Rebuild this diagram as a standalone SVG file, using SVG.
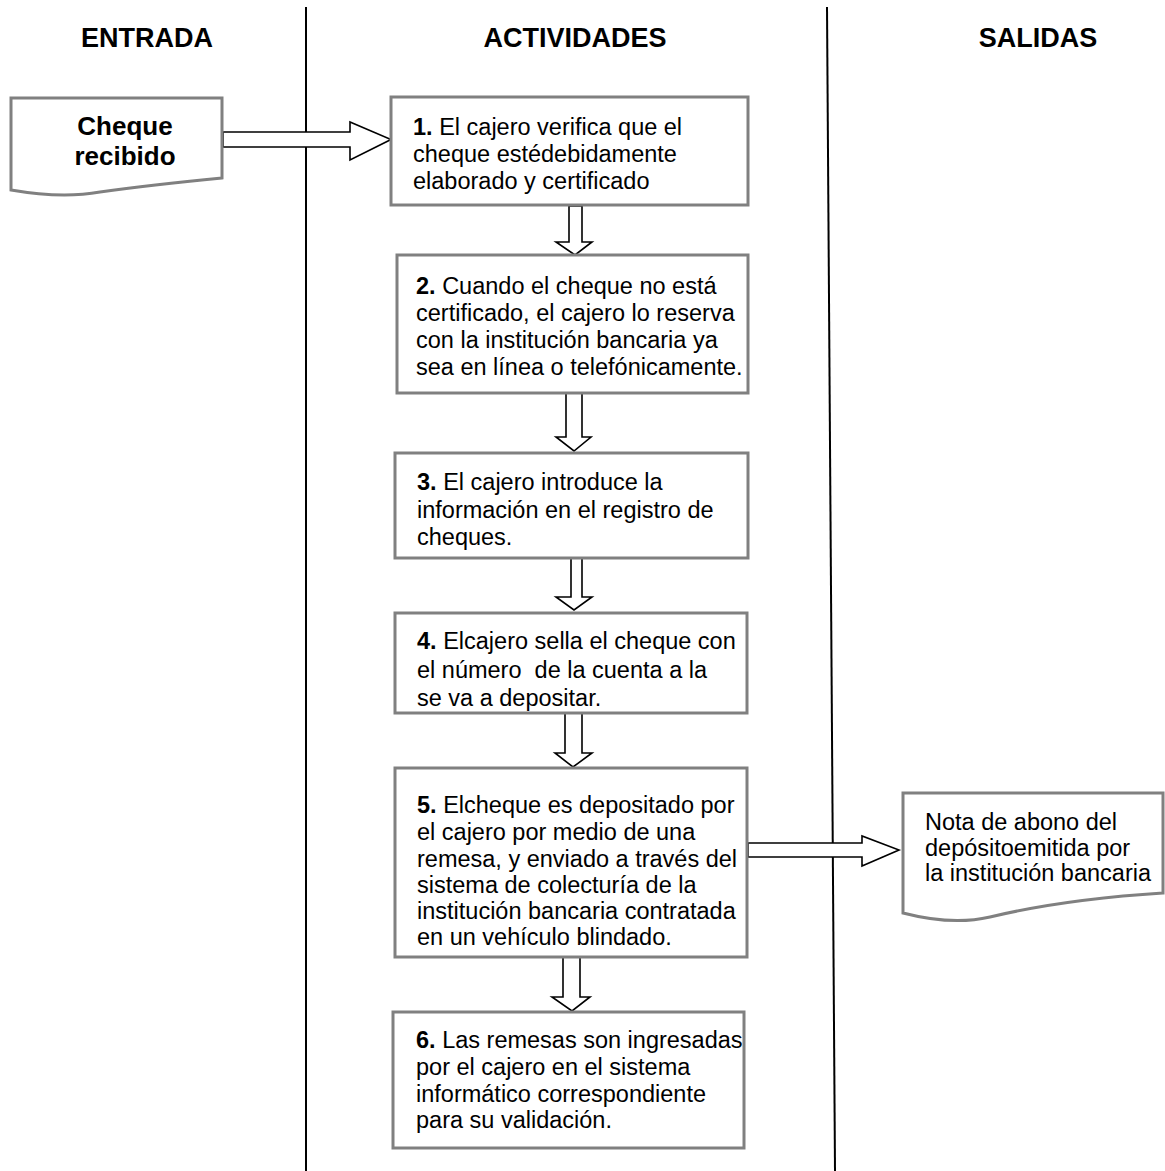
<svg xmlns="http://www.w3.org/2000/svg" width="1165" height="1171" viewBox="0 0 1165 1171">
<style>
.hdr{font-family:"Liberation Sans",Arial,sans-serif;font-weight:bold;font-size:27px;fill:#000;text-anchor:middle}
.t{font-family:"Liberation Sans",Arial,sans-serif;font-size:23.5px;fill:#000}
.b{font-weight:bold}
.big{font-family:"Liberation Sans",Arial,sans-serif;font-weight:bold;font-size:26px;fill:#000;text-anchor:middle}
.box{fill:#fff;stroke:#808080;stroke-width:3}
.arr{fill:#fff;stroke:#000;stroke-width:1.6;stroke-linejoin:miter}
.lane{stroke:#000;stroke-width:2;fill:none}
</style>
<rect width="1165" height="1171" fill="#fff"/>
<g id="lanes">
<line class="lane" x1="306" y1="7" x2="306" y2="1171"/>
<line class="lane" x1="827" y1="7" x2="835" y2="1171"/>
<text class="hdr" x="147" y="47">ENTRADA</text>
<text class="hdr" x="575" y="47">ACTIVIDADES</text>
<text class="hdr" x="1038" y="47">SALIDAS</text>
</g>
<g id="connectors">
<polygon class="arr" points="223,132 350,132 350,122 391,139.5 350,160 350,147 223,147"/>
<polygon class="arr" points="569,206 582,206 582,242 592,242 575,255 556,242 569,242"/>
<polygon class="arr" points="566,393 582,393 582,437 591,437 574,451 556,437 566,437"/>
<polygon class="arr" points="571,558 582,558 582,597 592,597 574,610 556,597 571,597"/>
<polygon class="arr" points="565,713 582,713 582,753 592,753 573,767 555,753 565,753"/>
<polygon class="arr" points="748,843 862,843 862,836 899,850 862,866 862,857 748,857"/>
<polygon class="arr" points="563,957 580,957 580,997 590,997 572,1011 552,997 563,997"/>
</g>
<g id="n-cheque">
<path class="box" d="M11,98 H222 V178 C180,182 135,187 100,192 C72,197 40,195 11,190 Z"/>
<text class="big" x="125" y="135">Cheque</text>
<text class="big" x="125" y="165">recibido</text>
</g>
<g id="n1">
<rect class="box" x="391" y="97" width="357" height="108"/>
<text class="t" x="413" y="135"><tspan class="b">1.</tspan> El cajero verifica que el</text>
<text class="t" x="413" y="162">cheque estédebidamente</text>
<text class="t" x="413" y="189">elaborado y certificado</text>
</g>
<g id="n2">
<rect class="box" x="397" y="255" width="351" height="138"/>
<text class="t" x="416" y="294"><tspan class="b">2.</tspan> Cuando el cheque no está</text>
<text class="t" x="416" y="321">certificado, el cajero lo reserva</text>
<text class="t" x="416" y="348">con la institución bancaria ya</text>
<text class="t" x="416" y="375">sea en línea o telefónicamente.</text>
</g>
<g id="n3">
<rect class="box" x="395" y="453" width="353" height="105"/>
<text class="t" x="417" y="490"><tspan class="b">3.</tspan> El cajero introduce la</text>
<text class="t" x="417" y="518">información en el registro de</text>
<text class="t" x="417" y="545">cheques.</text>
</g>
<g id="n4">
<rect class="box" x="395" y="613" width="352" height="100"/>
<text class="t" x="417" y="649"><tspan class="b">4.</tspan> Elcajero sella el cheque con</text>
<text class="t" x="417" y="678" xml:space="preserve">el número  de la cuenta a la</text>
<text class="t" x="417" y="706">se va a depositar.</text>
</g>
<g id="n5">
<rect class="box" x="395" y="768" width="352" height="189"/>
<text class="t" x="417" y="813"><tspan class="b">5.</tspan> Elcheque es depositado por</text>
<text class="t" x="417" y="840">el cajero por medio de una</text>
<text class="t" x="417" y="867">remesa, y enviado a través del</text>
<text class="t" x="417" y="893">sistema de colecturía de la</text>
<text class="t" x="417" y="919">institución bancaria contratada</text>
<text class="t" x="417" y="945">en un vehículo blindado.</text>
</g>
<g id="n6">
<rect class="box" x="393" y="1012" width="351" height="136"/>
<text class="t" x="416" y="1048"><tspan class="b">6.</tspan> Las remesas son ingresadas</text>
<text class="t" x="416" y="1075">por el cajero en el sistema</text>
<text class="t" x="416" y="1102">informático correspondiente</text>
<text class="t" x="416" y="1128">para su validación.</text>
</g>
<g id="n-nota">
<path class="box" d="M903,793 H1163 V893 C1100,897 1040,905 990,917 C960,924 930,920 903,913 Z"/>
<text class="t" x="925" y="830">Nota de abono del</text>
<text class="t" x="925" y="856">depósitoemitida por</text>
<text class="t" x="925" y="881">la institución bancaria</text>
</g>
</svg>
